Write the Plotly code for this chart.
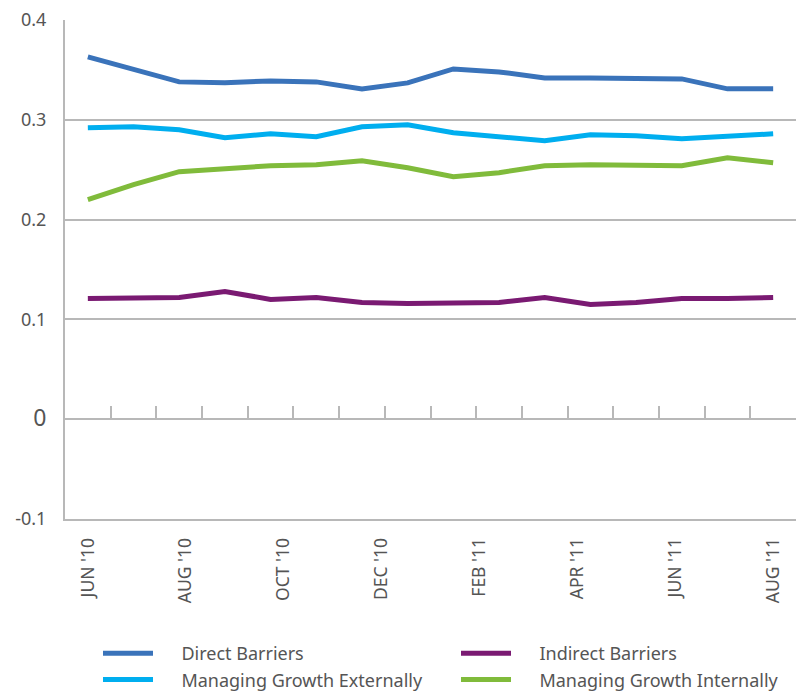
import plotly.graph_objects as go

# Survey waves, evenly spaced from Jun 2010 to Aug 2011
waves = list(range(16))
month_labels = ["JUN '10", "AUG '10", "OCT '10", "DEC '10",
                "FEB '11", "APR '11", "JUN '11", "AUG '11"]

direct_barriers = [0.363, 0.351, 0.338, 0.337, 0.339, 0.338, 0.331, 0.337,
                   0.351, 0.348, 0.342, 0.342, 0.341, 0.341, 0.331, 0.331]
indirect_barriers = [0.121, 0.121, 0.122, 0.128, 0.120, 0.122, 0.117, 0.116,
                     0.117, 0.117, 0.122, 0.115, 0.117, 0.121, 0.121, 0.122]
growth_external = [0.292, 0.293, 0.290, 0.282, 0.286, 0.283, 0.293, 0.295,
                   0.287, 0.283, 0.279, 0.285, 0.284, 0.281, 0.283, 0.286]
growth_internal = [0.220, 0.235, 0.248, 0.251, 0.254, 0.255, 0.259, 0.252,
                   0.243, 0.247, 0.254, 0.255, 0.255, 0.254, 0.262, 0.257]

y_ticks = [-0.1, 0, 0.1, 0.2, 0.3, 0.4]
y_ticktext = ["-0.1", "<span style='font-size:23px'>0</span>",
              "0.1", "0.2", "0.3", "0.4"]

# (name, values, colour, legend column)
series = [
    ("Direct Barriers", direct_barriers, "#3a73ba", "legend"),
    ("Managing Growth Externally", growth_external, "#00aeef", "legend"),
    ("Indirect Barriers", indirect_barriers, "#7a1a72", "legend2"),
    ("Managing Growth Internally", growth_internal, "#80bb3b", "legend2"),
]

GRID = "#b8b8b8"
TEXT = "#555555"
FONT = "Noto Sans"
PAD = "\u00a0" * 5  # gap between legend swatch and its label

fig = go.Figure()
for name, vals, color, leg in series:
    fig.add_trace(go.Scatter(
        x=waves, y=vals, name=PAD + name, mode="lines", legend=leg,
        line=dict(color=color, width=5),
    ))

# invisible helper so the zero-line tick axis is rendered
fig.add_trace(go.Scatter(x=[waves[0]], y=[0], xaxis="x2", mode="markers",
                         marker=dict(opacity=0), showlegend=False,
                         hoverinfo="skip"))

n = len(waves)
label_pos = [i * (n - 1) / (len(month_labels) - 1) for i in range(len(month_labels))]

W, H = 796, 691
legend_common = dict(
    orientation="v", xref="container", yref="container",
    y=1 - 635 / H, xanchor="left", yanchor="top",
    font=dict(size=18, color=TEXT, family=FONT),
    traceorder="normal", itemwidth=50, tracegroupgap=0,
    bgcolor="rgba(0,0,0,0)",
)

fig.update_layout(
    width=W, height=H,
    margin=dict(l=65, r=0, t=20, b=172, autoexpand=False),
    paper_bgcolor="white", plot_bgcolor="white",
    font=dict(family=FONT, color=TEXT, size=17),
    showlegend=True,
    legend=dict(x=98 / W, **legend_common),
    legend2=dict(x=456 / W, **legend_common),
    xaxis=dict(
        range=[-0.5, n - 0.5],
        tickmode="array", tickvals=label_pos, ticktext=month_labels,
        tickangle=-90, tickfont=dict(size=17.5, color=TEXT),
        ticks="", ticklabelstandoff=10,
        showgrid=False, zeroline=False,
        showline=True, linecolor=GRID, linewidth=2,
    ),
    xaxis2=dict(
        overlaying="x", anchor="free", position=0.2, side="bottom",
        range=[-0.5, n - 0.5],
        tickmode="array", tickvals=[i + 0.5 for i in waves],
        ticks="inside", ticklen=12, tickwidth=2, tickcolor=GRID,
        showticklabels=False, showgrid=False, zeroline=False,
        showline=True, linecolor=GRID, linewidth=2,
    ),
    yaxis=dict(
        range=[-0.1, 0.4],
        tickmode="array", tickvals=y_ticks, ticktext=y_ticktext,
        tickfont=dict(size=18, color=TEXT),
        ticks="", ticklabelstandoff=13,
        showgrid=True, gridcolor=GRID, gridwidth=2,
        zeroline=False,
        showline=True, linecolor=GRID, linewidth=2,
    ),
)

fig.write_html("out.html")
